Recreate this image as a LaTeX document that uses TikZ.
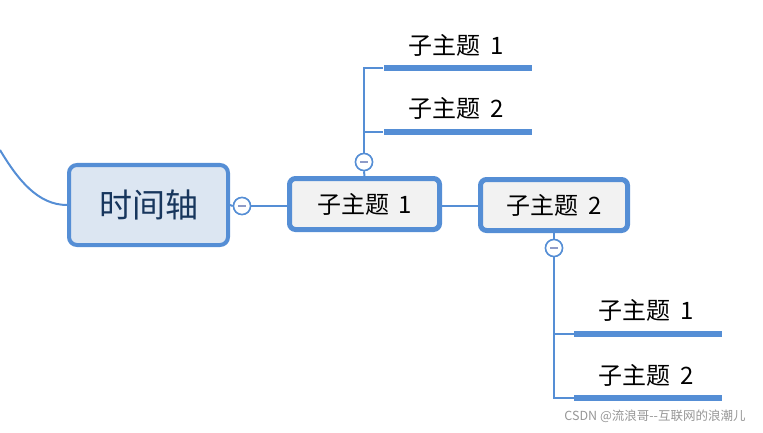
\documentclass[tikz,border=0pt]{standalone}
\usepackage{fontspec}
\setmainfont{Noto Sans CJK SC}
\usetikzlibrary{calc}
\definecolor{bl}{RGB}{85,142,213}
\definecolor{rootfill}{RGB}{220,230,242}
\definecolor{subfill}{RGB}{242,242,242}
\definecolor{navy}{RGB}{23,54,93}
\definecolor{minus}{RGB}{142,155,200}
\definecolor{wm}{RGB}{150,150,150}
\tikzset{
  conn/.style={draw=bl,line width=2pt},
  rootbox/.style={draw=bl,fill=rootfill,line width=4pt,rounded corners=8pt,minimum width=159pt,minimum height=80pt,inner sep=0pt,text=navy,font=\fontsize{33}{38}\selectfont},
  subbox/.style={draw=bl,fill=subfill,line width=5pt,rounded corners=6pt,minimum height=51pt,inner sep=0pt,font=\fontsize{24}{28}\selectfont},
  tog/.style={circle,draw=bl,fill=white,line width=1.5pt,minimum size=17pt,inner sep=0pt},
  bar/.style={fill=bl,minimum width=148pt,minimum height=6pt,inner sep=0pt},
  leaf/.style={inner sep=0pt,font=\fontsize{24}{28}\selectfont},
}
\newcommand{\minusmark}[1]{\draw[minus,line width=2pt] ($(#1)+(-4,0)$) -- ($(#1)+(4,0)$);}
\newcommand{\topic}[1]{\raisebox{-2.5pt}{子主题\hspace{0.4em}#1}}
\begin{document}
\begin{tikzpicture}[x=1pt,y=-1pt]
\useasboundingbox (0,0) rectangle (763,433);
% nodes
\node[rootbox] (root) at (148.5,205) {\raisebox{-2pt}{时间轴}};
\node[subbox,minimum width=150pt] (s1) at (364.5,204) {\topic{1}};
\node[subbox,minimum width=147pt] (s2) at (554,205) {\topic{2}};
\node[tog] (c0) at (242,206) {};
\node[tog] (c1) at (364,162) {};
\node[tog] (c2) at (554,248) {};
\node[bar] (b1) at (457.5,68) {};
\node[bar] (b2) at (457.5,132) {};
\node[bar] (b3) at (648,334) {};
\node[bar] (b4) at (648,398) {};
\node[leaf] (t1) at (456,45) {\topic{1}};
\node[leaf] (t2) at (456,108) {\topic{2}};
\node[leaf] (t3) at (646,310) {\topic{1}};
\node[leaf] (t4) at (646,375) {\topic{2}};
\coordinate (start) at (0,150);
% connectors
\draw[conn] (start) .. controls (18,180) and (38,205) .. (root.west);
\draw[conn] (root.east) -- (c0.west);
\draw[conn] (c0.east) -- (s1.west |- c0.east);
\draw[conn] (s1.east |- c0.east) -- (s2.west |- c0.east);
\draw[conn] (s1.north) -- (c1.south);
\draw[conn] (c1.north) |- (b1.west);
\draw[conn] (c1.north) |- (b2.west);
\draw[conn] (s2.south) -- (c2.north);
\draw[conn] (c2.south) |- (b3.west);
\draw[conn] (c2.south) |- (b4.west);
% redraw toggles on top
\node[tog] at (c0) {};
\node[tog] at (c1) {};
\node[tog] at (c2) {};
\minusmark{c0}
\minusmark{c1}
\minusmark{c2}
\node[text=wm,font=\fontsize{12.5}{14}\selectfont,inner sep=0pt] (wmk) at (655,416) {CSDN @流浪哥{-}{-}互联网的浪潮儿};
\end{tikzpicture}
\end{document}
